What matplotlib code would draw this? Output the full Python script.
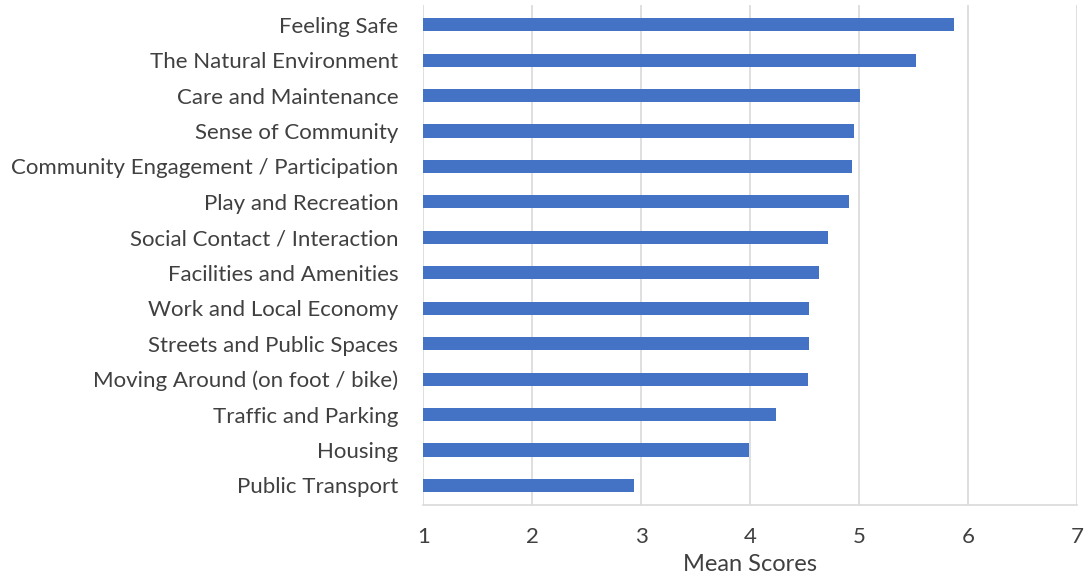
import matplotlib

matplotlib.use("Agg")
import matplotlib.pyplot as plt

categories = [
    "Feeling Safe",
    "The Natural Environment",
    "Care and Maintenance",
    "Sense of Community",
    "Community Engagement / Participation",
    "Play and Recreation",
    "Social Contact / Interaction",
    "Facilities and Amenities",
    "Work and Local Economy",
    "Streets and Public Spaces",
    "Moving Around (on foot / bike)",
    "Traffic and Parking",
    "Housing",
    "Public Transport",
]
mean_scores = [5.87, 5.52, 5.01, 4.95, 4.93, 4.91, 4.71, 4.63, 4.54, 4.54, 4.53, 4.24, 3.99, 2.93]
x_ticks = [1, 2, 3, 4, 5, 6, 7]

plt.rcParams["font.family"] = ["Lato", "DejaVu Sans"]

fig = plt.figure(figsize=(10.88, 5.77), dpi=100)
ax = fig.add_axes([0.389, 0.125, 0.601, 0.866])

ypos = list(range(len(categories)))
ax.barh(ypos, [v - 1 for v in mean_scores], left=1, height=0.37, color="#4472C4", zorder=3)

ax.set_xlim(1, 7)
ax.set_ylim(len(categories) - 0.45, -0.55)
ax.set_xticks(x_ticks)
ax.set_yticks(ypos)
ax.set_yticklabels(categories)
ax.tick_params(axis="both", length=0, labelsize=16, colors="#404040")
ax.tick_params(axis="y", pad=18)
ax.tick_params(axis="x", pad=16)
ax.grid(axis="x", color="#d9d9d9", linewidth=1.2, zorder=0)
for side in ("top", "right", "left"):
    ax.spines[side].set_visible(False)
ax.spines["bottom"].set_color("#d9d9d9")
ax.spines["bottom"].set_linewidth(1.2)
ax.set_xlabel("Mean Scores", fontsize=17, color="#404040", labelpad=5)

fig.savefig("out.png", dpi=100)
